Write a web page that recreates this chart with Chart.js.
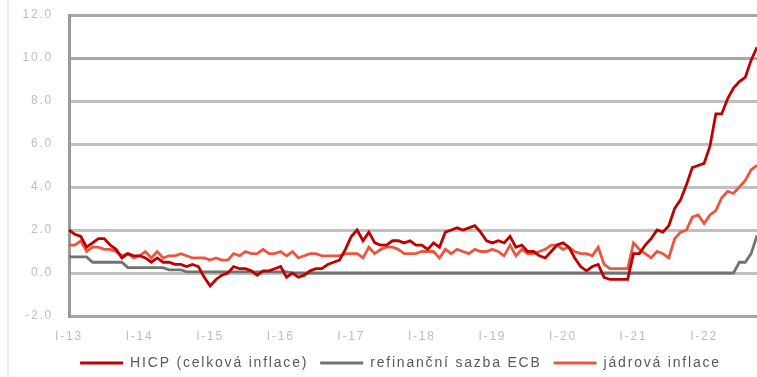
<!DOCTYPE html>
<html>
<head>
<meta charset="utf-8">
<script src="https://cdn.jsdelivr.net/npm/chart.js@4.4.1/dist/chart.umd.min.js"></script>
<style>
  html, body { margin: 0; padding: 0; background: #fff; }
  #wrap { position: relative; width: 757px; height: 377px; }
  #edge { position: absolute; left: 7px; top: 0; width: 2px; height: 377px; background: #efefef; }
</style>
</head>
<body>
<div id="wrap">
  <div id="edge"></div>
  <canvas id="chart" width="757" height="377"></canvas>
</div>
<script>
// monthly data, I-13 .. X-22
const years = ["13", "14", "15", "16", "17", "18", "19", "20", "21", "22"];
const months = ["I", "II", "III", "IV", "V", "VI", "VII", "VIII", "IX", "X", "XI", "XII"];
const seriesNames = ["HICP (celková inflace)", "refinanční sazba ECB", "jádrová inflace"];
const yTicks = [-2, 0, 2, 4, 6, 8, 10, 12];

const hicp = [
  2.0, 1.8, 1.7, 1.2, 1.4, 1.6, 1.6, 1.3, 1.1, 0.7, 0.9, 0.8,
  0.8, 0.7, 0.5, 0.7, 0.5, 0.5, 0.4, 0.4, 0.3, 0.4, 0.3, -0.2,
  -0.6, -0.3, -0.1, 0.0, 0.3, 0.2, 0.2, 0.1, -0.1, 0.1, 0.1, 0.2,
  0.3, -0.2, 0.0, -0.2, -0.1, 0.1, 0.2, 0.2, 0.4, 0.5, 0.6, 1.1,
  1.7, 2.0, 1.5, 1.9, 1.4, 1.3, 1.3, 1.5, 1.5, 1.4, 1.5, 1.3,
  1.3, 1.1, 1.4, 1.2, 1.9, 2.0, 2.1, 2.0, 2.1, 2.2, 1.9, 1.5,
  1.4, 1.5, 1.4, 1.7, 1.2, 1.3, 1.0, 1.0, 0.8, 0.7, 1.0, 1.3,
  1.4, 1.2, 0.7, 0.3, 0.1, 0.3, 0.4, -0.2, -0.3, -0.3, -0.3, -0.3,
  0.9, 0.9, 1.3, 1.6, 2.0, 1.9, 2.2, 3.0, 3.4, 4.1, 4.9, 5.0,
  5.1, 5.9, 7.4, 7.4, 8.1, 8.6, 8.9, 9.1, 9.9, 10.5
];

const ecbRate = [
  0.75, 0.75, 0.75, 0.75, 0.5, 0.5, 0.5, 0.5, 0.5, 0.5, 0.25, 0.25,
  0.25, 0.25, 0.25, 0.25, 0.25, 0.15, 0.15, 0.15, 0.05, 0.05, 0.05, 0.05,
  0.05, 0.05, 0.05, 0.05, 0.05, 0.05, 0.05, 0.05, 0.05, 0.05, 0.05, 0.05,
  0.05, 0.05, 0, 0, 0, 0, 0, 0, 0, 0, 0, 0,
  0, 0, 0, 0, 0, 0, 0, 0, 0, 0, 0, 0,
  0, 0, 0, 0, 0, 0, 0, 0, 0, 0, 0, 0,
  0, 0, 0, 0, 0, 0, 0, 0, 0, 0, 0, 0,
  0, 0, 0, 0, 0, 0, 0, 0, 0, 0, 0, 0,
  0, 0, 0, 0, 0, 0, 0, 0, 0, 0, 0, 0,
  0, 0, 0, 0, 0, 0, 0.5, 0.5, 0.9, 1.75
];

const core = [
  1.3, 1.3, 1.5, 1.0, 1.2, 1.2, 1.1, 1.1, 1.0, 0.8, 0.9, 0.7,
  0.8, 1.0, 0.7, 1.0, 0.7, 0.8, 0.8, 0.9, 0.8, 0.7, 0.7, 0.7,
  0.6, 0.7, 0.6, 0.6, 0.9, 0.8, 1.0, 0.9, 0.9, 1.1, 0.9, 0.9,
  1.0, 0.8, 1.0, 0.7, 0.8, 0.9, 0.9, 0.8, 0.8, 0.8, 0.8, 0.9,
  0.9, 0.9, 0.7, 1.2, 0.9, 1.1, 1.2, 1.2, 1.1, 0.9, 0.9, 0.9,
  1.0, 1.0, 1.0, 0.7, 1.1, 0.9, 1.1, 1.0, 0.9, 1.1, 1.0, 1.0,
  1.1, 1.0, 0.8, 1.3, 0.8, 1.1, 0.9, 0.9, 1.0, 1.1, 1.3, 1.3,
  1.1, 1.2, 1.0, 0.9, 0.9, 0.8, 1.2, 0.4, 0.2, 0.2, 0.2, 0.2,
  1.4, 1.1, 0.9, 0.7, 1.0, 0.9, 0.7, 1.6, 1.9, 2.0, 2.6, 2.7,
  2.3, 2.7, 2.9, 3.5, 3.8, 3.7, 4.0, 4.3, 4.8, 5.0
];

const labels = [];
years.forEach((y) => months.forEach((m) => labels.push(m + "-" + y)));
labels.length = hicp.length;

const colors = ["#c00000", "#727272", "#ec5640"];

// text in the original is widely spaced
const spacing = {
  id: "spacing",
  beforeUpdate(chart) { chart.ctx.letterSpacing = "1.8px"; },
  beforeDraw(chart) { chart.ctx.letterSpacing = "1.8px"; },
  afterLayout(chart) {
    // legend sits a bit right of the canvas centre
    chart.legend.left += 22;
    chart.legend.right += 22;
  },
};

const ctx = document.getElementById("chart").getContext("2d");
new Chart(ctx, {
  type: "line",
  data: {
    labels: labels,
    datasets: [hicp, ecbRate, core].map((d, i) => ({
      label: seriesNames[i],
      data: d,
      borderColor: colors[i],
      backgroundColor: colors[i],
      borderWidth: 2.8,
      pointRadius: 0,
      tension: 0,
      fill: false,
    })),
  },
  options: {
    responsive: false,
    animation: false,
    layout: { padding: { top: 15, right: 0, bottom: -3, left: 0 } },
    plugins: {
      tooltip: { enabled: false },
      legend: {
        position: "bottom",
        labels: {
          usePointStyle: true,
          pointStyle: "line",
          pointStyleWidth: 43,
          padding: 12,
          color: "#595959",
          font: { family: "Liberation Sans", size: 14 },
        },
      },
    },
    scales: {
      x: {
        offset: false,
        // invisible tick marks give the label gap (tick padding would pad the right edge too)
        grid: { color: "transparent", drawOnChartArea: false, tickLength: 13, tickColor: "transparent" },
        border: { color: "#a6a6a6", width: 3 },
        ticks: {
          autoSkip: false,
          maxRotation: 0,
          padding: 0,
          color: "#bdbdbd",
          font: { family: "Liberation Sans", size: 12 },
          callback: function (value, index) {
            return index % 12 === 0 ? labels[index] : "";
          },
        },
        afterFit: (s) => { s.height = 28; },
      },
      y: {
        min: yTicks[0],
        max: yTicks[yTicks.length - 1],
        afterBuildTicks: (s) => { s.ticks = yTicks.map((v) => ({ value: v })); },
        grid: {
          tickLength: 16,
          tickColor: "transparent",
          lineWidth: 3,
          color: (c) => (c.tick && c.tick.value >= 10 ? "#a8a8a8" : "#c0c0c0"),
        },
        border: { color: "#9a9a9a", width: 3 },
        ticks: {
          padding: 0,
          color: "#bdbdbd",
          font: { family: "Liberation Sans", size: 12 },
          callback: (v) => Number(v).toFixed(1),
        },
        afterFit: (s) => { s.width = 69; },
      },
    },
  },
  plugins: [spacing],
});
</script>
</body>
</html>
